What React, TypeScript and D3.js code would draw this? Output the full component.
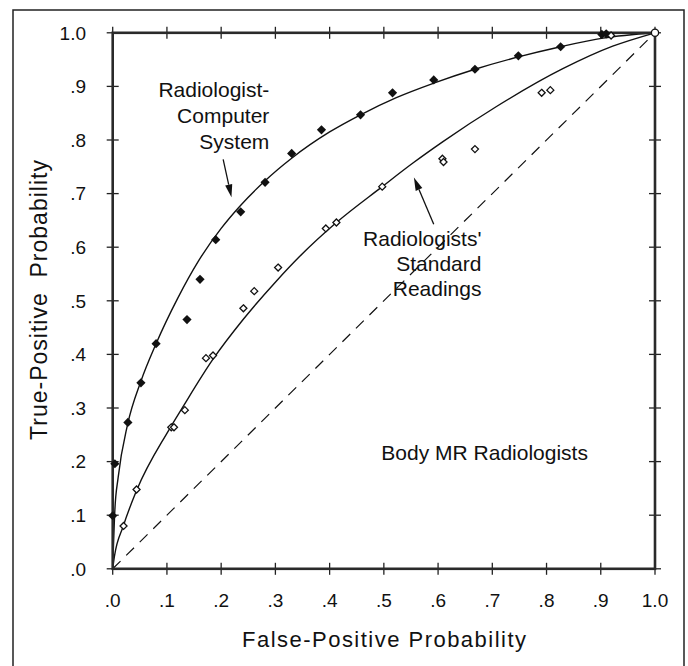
import React from "react";
import * as d3 from "d3";

// ---- data ----
const tickValues = [0, 0.1, 0.2, 0.3, 0.4, 0.5, 0.6, 0.7, 0.8, 0.9, 1.0];
const tickLabels = [".0", ".1", ".2", ".3", ".4", ".5", ".6", ".7", ".8", ".9", "1.0"];

// Radiologist-Computer System (filled diamonds)
const computerFPF = [0.0, 0.004, 0.028, 0.052, 0.08, 0.137, 0.161, 0.19, 0.236, 0.281, 0.33, 0.385, 0.457, 0.516, 0.592, 0.668, 0.748, 0.826, 0.902, 0.91];
const computerTPF = [0.099, 0.196, 0.273, 0.347, 0.42, 0.465, 0.54, 0.614, 0.666, 0.721, 0.775, 0.819, 0.847, 0.888, 0.912, 0.932, 0.957, 0.974, 0.997, 0.998];

// Radiologists' Standard Readings (open diamonds)
const standardFPF = [0.02, 0.044, 0.108, 0.113, 0.133, 0.172, 0.185, 0.241, 0.261, 0.305, 0.393, 0.4125, 0.497, 0.608, 0.61, 0.668, 0.791, 0.807, 0.919];
const standardTPF = [0.08, 0.148, 0.264, 0.264, 0.296, 0.393, 0.398, 0.486, 0.518, 0.562, 0.635, 0.646, 0.713, 0.765, 0.759, 0.783, 0.888, 0.893, 0.995];

// fitted ROC curves
const computerCurveX = [0, 0.004, 0.01, 0.0276, 0.052, 0.08, 0.12, 0.158, 0.2, 0.234, 0.281, 0.33, 0.4, 0.457, 0.523, 0.592, 0.668, 0.748, 0.826, 0.904, 1.0];
const computerCurveY = [0, 0.11, 0.17, 0.27, 0.35, 0.42, 0.505, 0.574, 0.635, 0.676, 0.724, 0.766, 0.815, 0.847, 0.879, 0.906, 0.932, 0.955, 0.974, 0.99, 1.0];
const standardCurveX = [0, 0.003, 0.0196, 0.044, 0.1024, 0.13, 0.185, 0.2405, 0.302, 0.345, 0.4125, 0.497, 0.5536, 0.609, 0.707, 0.83, 0.922, 1.0];
const standardCurveY = [0, 0.022, 0.08, 0.146, 0.257, 0.303, 0.391, 0.465, 0.537, 0.583, 0.646, 0.713, 0.757, 0.797, 0.862, 0.933, 0.975, 1.0];

const chanceLine = [0, 1];

const computerLabel = ["Radiologist-", "Computer", "System"];
const standardLabel = ["Radiologists'", "Standard", "Readings"];
const panelLabel = "Body MR Radiologists";
const xTitle = "False-Positive Probability";
const yTitle = "True-Positive  Probability";

// ---- layout ----
const W = 688;
const H = 666;
const FONT = "'Liberation Sans', Arial, Helvetica, sans-serif";

export default function App() {
  const x = d3.scaleLinear().domain([0, 1]).range([112.7, 655]);
  const y = d3.scaleLinear().domain([0, 1]).range([568.8, 32.8]);

  const line = d3
    .line<[number, number]>()
    .x((d) => x(d[0]))
    .y((d) => y(d[1]))
    .curve(d3.curveMonotoneX);

  const compCurve = line(computerCurveX.map((v, i) => [v, computerCurveY[i]]) as [number, number][]) || "";
  const stdCurve = line(standardCurveX.map((v, i) => [v, standardCurveY[i]]) as [number, number][]) || "";

  const diamond = (cx: number, cy: number, r: number) =>
    `M${cx},${cy - r}L${cx + r},${cy}L${cx},${cy + r}L${cx - r},${cy}Z`;

  const arrow = (x1: number, y1: number, x2: number, y2: number) => {
    const sx = x(x1), sy = y(y1), ex = x(x2), ey = y(y2);
    const ang = Math.atan2(ey - sy, ex - sx);
    const len = 13, half = 3.6;
    const bx = ex - len * Math.cos(ang), by = ey - len * Math.sin(ang);
    const px = -Math.sin(ang) * half, py = Math.cos(ang) * half;
    return (
      <g>
        <line x1={sx} y1={sy} x2={bx} y2={by} stroke="#111" strokeWidth={1.3} />
        <path d={`M${ex},${ey}L${bx + px},${by + py}L${bx - px},${by - py}Z`} fill="#111" />
      </g>
    );
  };

  const x0 = x(0), x1 = x(1), y0 = y(0), y1 = y(1);
  const tk = 6;

  return (
    <svg
      width={W}
      height={H}
      style={{ position: "absolute", left: 0, top: 0, background: "#fff" }}
      fontFamily={FONT}
    >
      <rect x={0} y={0} width={W} height={H} fill="#fff" />
      {/* outer frame */}
      <path d={`M13,${H + 5}L13,10L684,10L684,${H + 5}`} fill="none" stroke="#222" strokeWidth={1.5} />

      {/* chance diagonal */}
      <line
        x1={x(chanceLine[0])}
        y1={y(chanceLine[0])}
        x2={x(chanceLine[1])}
        y2={y(chanceLine[1])}
        stroke="#111"
        strokeWidth={1.2}
        strokeDasharray="11,8"
      />

      {/* curves */}
      <path d={compCurve} fill="none" stroke="#111" strokeWidth={1.4} />
      <path d={stdCurve} fill="none" stroke="#111" strokeWidth={1.4} />

      {/* ticks */}
      {tickValues.map((t, i) => (
        <g key={"t" + i} stroke="#222" strokeWidth={1.3}>
          <line x1={x(t)} x2={x(t)} y1={y0 - tk} y2={y0 + tk} />
          <line x1={x(t)} x2={x(t)} y1={y1 - tk} y2={y1 + tk} />
          <line y1={y(t)} y2={y(t)} x1={x0 - tk} x2={x0 + tk} />
          <line y1={y(t)} y2={y(t)} x1={x1 - tk} x2={x1 + tk} />
        </g>
      ))}

      {/* axes frame */}
      <rect x={x0} y={y1} width={x1 - x0} height={y0 - y1} fill="none" stroke="#2a2a2a" strokeWidth={2.6} />

      {/* tick labels */}
      {tickValues.map((t, i) => (
        <text key={"xl" + i} x={x(t)} y={607} textAnchor="middle" fontSize={19} fill="#111">
          {tickLabels[i]}
        </text>
      ))}
      {tickValues.map((t, i) => (
        <text key={"yl" + i} x={86} y={y(t) + 6.7} textAnchor="end" fontSize={19} fill="#111">
          {tickLabels[i]}
        </text>
      ))}

      {/* axis titles */}
      <text x={384} y={647} textAnchor="middle" fontSize={22} fill="#111" textLength={284} lengthAdjust="spacing">
        {xTitle}
      </text>
      <text
        transform={`translate(46.5,300) rotate(-90)`}
        textAnchor="middle"
        fontSize={23}
        fill="#111"
        textLength={280}
        lengthAdjust="spacing"
        style={{ whiteSpace: "pre" }}
      >
        {yTitle}
      </text>

      {/* data points */}
      {computerFPF.map((v, i) => (
        <path key={"c" + i} d={diamond(x(v), y(computerTPF[i]), 4.6)} fill="#111" />
      ))}
      {standardFPF.map((v, i) => (
        <path key={"s" + i} d={diamond(x(v), y(standardTPF[i]), 3.5)} fill="#fff" stroke="#111" strokeWidth={1.3} />
      ))}
      <circle cx={x(1)} cy={y(1)} r={3.6} fill="#fff" stroke="#111" strokeWidth={1.3} />

      {/* annotations */}
      {computerLabel.map((s, i) => (
        <text key={"cl" + i} x={x(0.2888)} y={y(0.8795) + i * 26} textAnchor="end" fontSize={21} fill="#111">
          {s}
        </text>
      ))}
      {standardLabel.map((s, i) => (
        <text key={"sl" + i} x={x(0.68)} y={y(0.6024) + i * 25.2} textAnchor="end" fontSize={21} fill="#111">
          {s}
        </text>
      ))}
      <text x={x(0.4954)} y={y(0.2028)} fontSize={21} fill="#111">
        {panelLabel}
      </text>

      {arrow(0.2037, 0.764, 0.219, 0.693)}
      {arrow(0.592, 0.643, 0.5554, 0.73)}
    </svg>
  );
}
